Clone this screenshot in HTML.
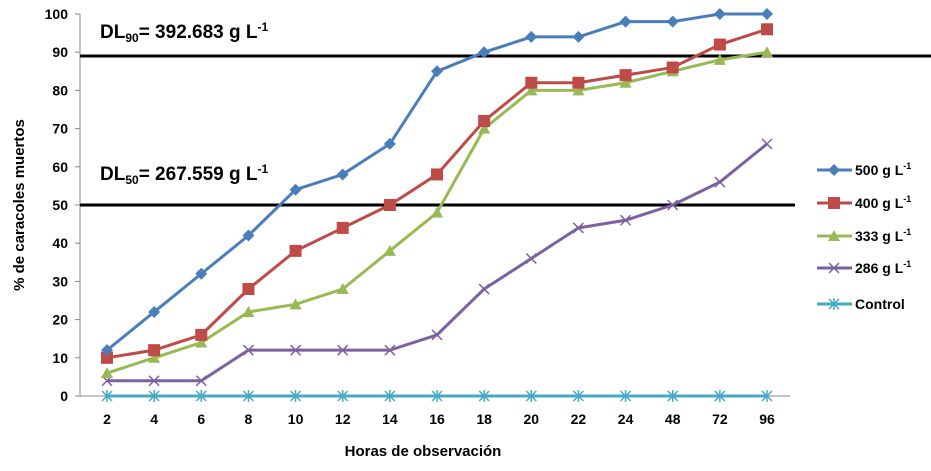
<!DOCTYPE html>
<html><head><meta charset="utf-8"><style>
body{margin:0;background:#fff;}
svg text{font-family:"Liberation Sans",sans-serif;font-weight:bold;fill:#000;}
</style></head><body>
<svg id="chart" width="931" height="466" viewBox="0 0 931 466" xmlns="http://www.w3.org/2000/svg">
<g id="axes"></g>
<g id="series"></g>
<g id="legend"></g>
<text x="423" y="456" font-size="15" text-anchor="middle">Horas de observación</text>
<text transform="translate(24,205) rotate(-90)" font-size="15" text-anchor="middle">% de caracoles muertos</text>
<text x="100" y="38" font-size="19">DL<tspan font-size="12" dy="4">90</tspan><tspan dy="-4">= 392.683 g L</tspan><tspan font-size="12" dy="-7">-1</tspan></text>
<text x="100" y="180" font-size="19">DL<tspan font-size="12" dy="4">50</tspan><tspan dy="-4">= 267.559 g L</tspan><tspan font-size="12" dy="-7">-1</tspan></text>
</svg>
<script>
const categories=["2","4","6","8","10","12","14","16","18","20","22","24","48","72","96"];
const s500=[12,22,32,42,54,58,66,85,90,94,94,98,98,100,100];
const s400=[10,12,16,28,38,44,50,58,72,82,82,84,86,92,96];
const s333=[6,10,14,22,24,28,38,48,70,80,80,82,85,88,90];
const s286=[4,4,4,12,12,12,12,16,28,36,44,46,50,56,66];
const sControl=[0,0,0,0,0,0,0,0,0,0,0,0,0,0,0];
const yTicks=[0,10,20,30,40,50,60,70,80,90,100];
const refLines=[89,50];
const seriesNames=["500 g L","400 g L","333 g L","286 g L","Control"];

const NS="http://www.w3.org/2000/svg";
const X0=80,Y0=396,Y100=14;
const xs=i=>107+i*(767-107)/(categories.length-1);
const ys=v=>Y0-(v/100)*(Y0-Y100);
function mk(tag,attrs,parent){const e=document.createElementNS(NS,tag);for(const k in attrs)e.setAttribute(k,attrs[k]);parent.appendChild(e);return e;}
const axes=document.getElementById('axes'),ser=document.getElementById('series'),leg=document.getElementById('legend');

let ax=mk('line',{x1:X0,y1:Y100,x2:X0,y2:Y0,stroke:'#888','stroke-width':1},axes);

let bx=mk('line',{x1:X0,y1:Y0,x2:790,y2:Y0,stroke:'#888','stroke-width':1},axes);

yTicks.forEach(v=>{
 const t=mk('text',{x:X0-12,y:ys(v)+5,'font-size':14,'text-anchor':'end'},axes);t.textContent=v;
 
 mk('line',{x1:X0-5,y1:ys(v),x2:X0,y2:ys(v),stroke:'#888'},axes);
});
categories.forEach((c,i)=>{
 const t=mk('text',{x:xs(i),y:424,'font-size':14,'text-anchor':'middle'},axes);t.textContent=c;
 
});
refLines.forEach((v,k)=>{
 const l=mk('line',{x1:X0,y1:ys(v),x2:k==0?931:795,y2:ys(v),stroke:'#000','stroke-width':3},axes);
 
});

const colors=["#4a7ebb","#be4b48","#98b954","#7d60a0","#46aac5"];
const data=[s500,s400,s333,s286,sControl];
function marker(k,x,y,g){
 const c=colors[k];
 if(k==0)return mk('path',{d:`M${x} ${y-6}L${x+6} ${y}L${x} ${y+6}L${x-6} ${y}Z`,fill:c},g);
 if(k==1)return mk('rect',{x:x-6,y:y-6,width:12,height:12,fill:c},g);
 if(k==2)return mk('path',{d:`M${x} ${y-6}L${x+6} ${y+5}L${x-6} ${y+5}Z`,fill:c},g);
 if(k==3)return mk('path',{d:`M${x-5} ${y-5}L${x+5} ${y+5}M${x-5} ${y+5}L${x+5} ${y-5}`,stroke:c,'stroke-width':1.5,fill:'none'},g);
 return mk('path',{d:`M${x-5} ${y-5}L${x+5} ${y+5}M${x-5} ${y+5}L${x+5} ${y-5}M${x} ${y-6}L${x} ${y+6}`,stroke:c,'stroke-width':1.5,fill:'none'},g);
}
const slug=["series-500","series-400","series-333","series-286","series-control"];
for(let k=data.length-1;k>=0;k--){
 const g=mk('g',{},ser);
 
 const pts=data[k].map((v,i)=>xs(i)+','+ys(v)).join(' ');
 mk('polyline',{points:pts,fill:'none',stroke:colors[k],'stroke-width':3},g);
 data[k].forEach((v,i)=>{const m=marker(k,xs(i),ys(v),g);});
}
const legY=[170,203,236,268,304];
seriesNames.forEach((n,k)=>{
 const g=mk('g',{},leg);
 
 mk('line',{x1:817,y1:legY[k],x2:852,y2:legY[k],stroke:colors[k],'stroke-width':3},g);
 marker(k,834,legY[k],g);
 const t=mk('text',{x:855,y:legY[k]+5,'font-size':14},g);
 t.textContent=n;
 if(k<4){const s=mk('tspan',{'font-size':9,dy:-6},t);s.textContent='-1';}
});
</script>
</body></html>
